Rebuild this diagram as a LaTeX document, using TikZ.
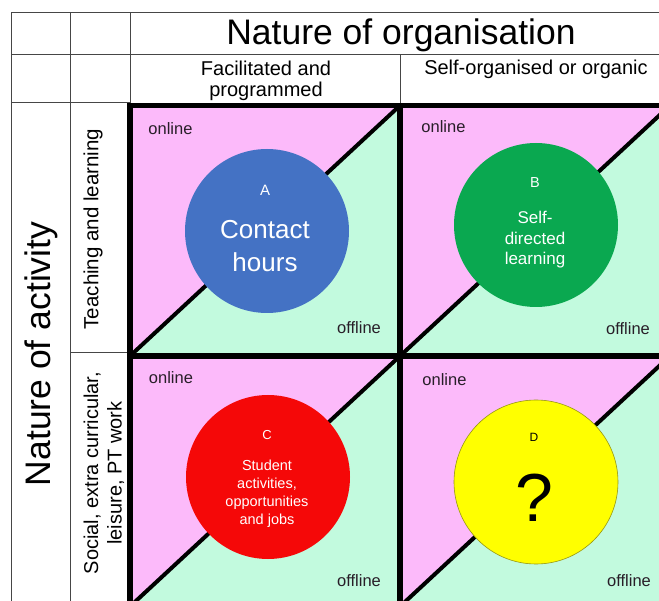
\documentclass[tikz,border=0pt]{standalone}
\usepackage{fontspec}
\setmainfont{Liberation Sans}
\definecolor{pinkc}{RGB}{252,186,250}
\definecolor{mintc}{RGB}{194,250,222}
\definecolor{blueC}{RGB}{68,114,196}
\definecolor{greenC}{RGB}{10,168,80}
\definecolor{redC}{RGB}{245,8,8}
\definecolor{yellowC}{RGB}{255,255,0}
\definecolor{gridc}{RGB}{70,70,70}
\definecolor{labc}{RGB}{40,30,40}
\begin{document}
\begin{tikzpicture}[x=1pt,y=-1pt,
  thinline/.style={draw=gridc, line width=1pt},
  framel/.style={draw=black, line width=5.5pt},
  diagl/.style={draw=black, line width=4pt},
  circ/.style={circle, minimum size=164pt, inner sep=0pt},
  lbl/.style={inner sep=0pt, anchor=base, text=labc, font=\fontsize{16.5}{19}\selectfont},
  hdr/.style={inner sep=0pt, anchor=base, font=\fontsize{20}{22}\selectfont},
  big/.style={inner sep=0pt, font=\fontsize{35.5}{40}\selectfont},
  ctext/.style={inner sep=0pt, text=white}
]
\useasboundingbox (0,0) rectangle (659,601);
\clip (0,0) rectangle (659,601);
\fill[white] (0,0) rectangle (659,601);

% grid corner coordinates
\coordinate (p00) at (130,105.5);
\coordinate (p10) at (400,105.5);
\coordinate (p20) at (670,105.5);
\coordinate (p01) at (130,356);
\coordinate (p11) at (400,356);
\coordinate (p21) at (670,356);
\coordinate (p02) at (130,606.5);
\coordinate (p12) at (400,606.5);
\coordinate (p22) at (670,606.5);

% thin table lines
\draw[thinline] (11,13) -- (670,13);
\draw[thinline] (11,55) -- (670,55);
\draw[thinline] (11,103) -- (130,103);
\draw[thinline] (11,13) -- (11,610);
\draw[thinline] (70,13) -- (70,610);
\draw[thinline] (130,13) -- (130,103);
\draw[thinline] (400,55) -- (400,103);
\draw[thinline] (70,353) -- (130,353);

% cells
\fill[pinkc] (p00) rectangle (p22);
\fill[mintc] (p01) -- (p11) -- (p10) -- cycle;
\fill[mintc] (p11) -- (p21) -- (p20) -- cycle;
\fill[mintc] (p02) -- (p12) -- (p11) -- cycle;
\fill[mintc] (p12) -- (p22) -- (p21) -- cycle;
\draw[diagl] (p01) -- (p10);
\draw[diagl] (p11) -- (p20);
\draw[diagl] (p02) -- (p11);
\draw[diagl] (p12) -- (p21);
\draw[framel] (p00) rectangle (p22);
\draw[framel] (p10) -- (p12);
\draw[framel] (p01) -- (p21);

% headers
\node[big, anchor=base] (title) at (401,45) {Nature of organisation};
\node[hdr] (fac1) at (266,76) {Facilitated and};
\node[hdr] (fac2) at (266,97) {programmed};
\node[hdr] (self) at (536,75) {Self-organised or organic};
\node[big, rotate=90] (act) at (41,354) {Nature of activity};
\node[inner sep=0pt, rotate=90, font=\fontsize{20.5}{22}\selectfont] (teach) at (93,229) {Teaching and learning};
\node[inner sep=0pt, rotate=90, align=center, font=\fontsize{20}{23.5}\selectfont] (soc) at (104,473) {Social, extra curricular,\\leisure, PT work};

% online / offline labels
\node[lbl] (onA) at (170.5,135) {online};
\node[lbl] (offA) at (359,334) {offline};
\node[lbl] (onB) at (443.5,133) {online};
\node[lbl] (offB) at (628,335) {offline};
\node[lbl] (onC) at (171,384) {online};
\node[lbl] (offC) at (359,586) {offline};
\node[lbl] (onD) at (444.5,386) {online};
\node[lbl] (offD) at (629,586) {offline};

% circles
\node[circ, fill=blueC] (cA) at (267,231) {};
\node[circ, fill=greenC] (cB) at (536,225) {};
\node[circ, fill=redC] (cC) at (268,477) {};
\node[circ, fill=yellowC, draw={rgb,255:red,150;green,150;blue,20}, line width=0.6pt] (cD) at (536,482) {};

% circle texts
\node[ctext, font=\fontsize{15}{17}\selectfont] (tA) at (265,190) {A};
\node[ctext, font=\fontsize{26}{32}\selectfont] (tA1) at (265,230) {Contact};
\node[ctext, font=\fontsize{26}{32}\selectfont] (tA2) at (265,262) {hours};

\node[ctext, font=\fontsize{14.5}{17}\selectfont] (tB) at (535,183) {B};
\node[ctext, font=\fontsize{17}{20}\selectfont] (tB1) at (535,217) {Self-};
\node[ctext, font=\fontsize{17}{20}\selectfont] (tB2) at (535,238) {directed};
\node[ctext, font=\fontsize{17}{20}\selectfont] (tB3) at (535,260) {learning};

\node[ctext, font=\fontsize{13}{15}\selectfont] (tC) at (267,435) {C};
\node[ctext, font=\fontsize{14.5}{17}\selectfont] (tC1) at (267,465) {Student};
\node[ctext, font=\fontsize{14.5}{17}\selectfont] (tC2) at (267,484) {activities,};
\node[ctext, font=\fontsize{14.5}{17}\selectfont] (tC3) at (267,503) {opportunities};
\node[ctext, font=\fontsize{14.5}{17}\selectfont] (tC4) at (267,521) {and jobs};

\node[inner sep=0pt, font=\fontsize{12}{14}\selectfont] (tD) at (534,437) {D};
\node[inner sep=0pt, font=\fontsize{68}{72}\selectfont] (tD1) at (534,498) {?};
\end{tikzpicture}
\end{document}
